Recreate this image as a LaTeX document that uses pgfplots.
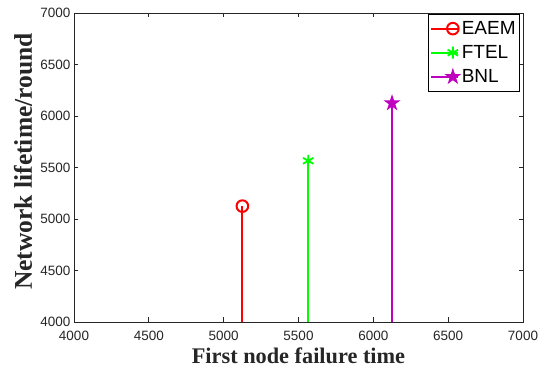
\documentclass[border=0pt]{standalone}
\usepackage{pgfplots}
\pgfplotsset{compat=1.18}
\usepackage{fontspec}
\setmainfont{Liberation Sans}
\newfontfamily\timesfont{Liberation Serif}
\definecolor{mred}{RGB}{255,0,0}
\definecolor{mgreen}{RGB}{0,255,0}
\definecolor{mpurple}{RGB}{191,0,191}
\definecolor{axgray}{RGB}{38,38,38}
\pgfdeclareplotmark{pstar}{%
  \pgfpathmoveto{\pgfpointpolar{90}{\pgfplotmarksize}}%
  \pgfpathlineto{\pgfpointpolar{126}{0.382\pgfplotmarksize}}%
  \pgfpathlineto{\pgfpointpolar{162}{\pgfplotmarksize}}%
  \pgfpathlineto{\pgfpointpolar{198}{0.382\pgfplotmarksize}}%
  \pgfpathlineto{\pgfpointpolar{234}{\pgfplotmarksize}}%
  \pgfpathlineto{\pgfpointpolar{270}{0.382\pgfplotmarksize}}%
  \pgfpathlineto{\pgfpointpolar{306}{\pgfplotmarksize}}%
  \pgfpathlineto{\pgfpointpolar{342}{0.382\pgfplotmarksize}}%
  \pgfpathlineto{\pgfpointpolar{18}{\pgfplotmarksize}}%
  \pgfpathlineto{\pgfpointpolar{54}{0.382\pgfplotmarksize}}%
  \pgfpathclose
  \pgfusepathqfillstroke}
\begin{document}
\begin{tikzpicture}
\begin{axis}[
  scale only axis,
  at={(0,0)}, anchor=south west,
  width=449pt, height=309pt,
  xmin=4000, xmax=7000, ymin=4000, ymax=7000,
  xtick={4000,4500,...,7000}, ytick={4000,4500,...,7000},
  /pgf/number format/assume math mode=true,
  /pgf/number format/1000 sep={},
  tick label style={font=\fontsize{13.5}{15}\selectfont, text=axgray},
  xticklabel style={yshift=-6pt},
  tick align=inside,
  major tick length=4.5pt,
  axis line style={line width=0.8pt, axgray},
  every tick/.style={axgray, line width=0.7pt},
  xlabel={\timesfont\bfseries\fontsize{22.3}{24}\selectfont First node failure time},
  ylabel={\timesfont\bfseries\fontsize{25.5}{27}\selectfont Network lifetime/round},
  label style={text=axgray},
  xlabel style={at={([yshift=-34pt]axis description cs:0.5,0)}, anchor=center},
  ylabel style={at={([xshift=-51pt,yshift=6pt]axis description cs:0,0.5)}, anchor=center},
  legend style={at={([xshift=-3pt,yshift=-1pt]axis description cs:1,1)}, anchor=north east,
    font=\fontsize{19}{21}\selectfont, draw=black, line width=0.7pt,
    inner xsep=2pt, inner ysep=5pt, row sep=5.5pt},
  legend cell align=left,
]
\addplot[mred, line width=2pt, mark=o, mark size=5.8pt, mark indices={2},
  mark options={line width=2pt, mred},
  legend image code/.code={\path (0pt,0pt) -- (27pt,0pt); \draw[mred, line width=2pt] (0pt,0pt) -- (16.2pt,0pt); \draw[mred, line width=2pt] (22pt,0pt) circle (5.8pt);}]
  coordinates {(5125,4000) (5125,5125)};
\addlegendentry{EAEM}
\addplot[mgreen, line width=2pt, mark=asterisk, mark size=6pt, mark indices={2},
  mark options={line width=1.8pt, mgreen},
  legend image code/.code={\path (0pt,0pt) -- (27pt,0pt); \draw[mgreen, line width=2pt, mark=asterisk, mark size=6pt, mark indices={2}, mark options={line width=1.8pt, mgreen}] plot coordinates {(0pt,0pt) (22pt,0pt)};}]
  coordinates {(5565,4000) (5565,5565)};
\addlegendentry{FTEL}
\addplot[mpurple, line width=2pt, mark=pstar, mark size=7.3pt, mark indices={2},
  mark options={line width=1pt, draw=mpurple, fill=mpurple},
  legend image code/.code={\path (0pt,0pt) -- (27pt,0pt); \draw[mpurple, line width=2pt, mark=pstar, mark size=7.3pt, mark indices={2}, mark options={line width=1pt, draw=mpurple, fill=mpurple}] plot coordinates {(0pt,0pt) (22pt,0pt)};}]
  coordinates {(6125,4000) (6125,6125)};
\addlegendentry{BNL}
\end{axis}
\pgfresetboundingbox
\path (-74pt,-52pt) rectangle (471pt,322pt);
\end{tikzpicture}
\end{document}
